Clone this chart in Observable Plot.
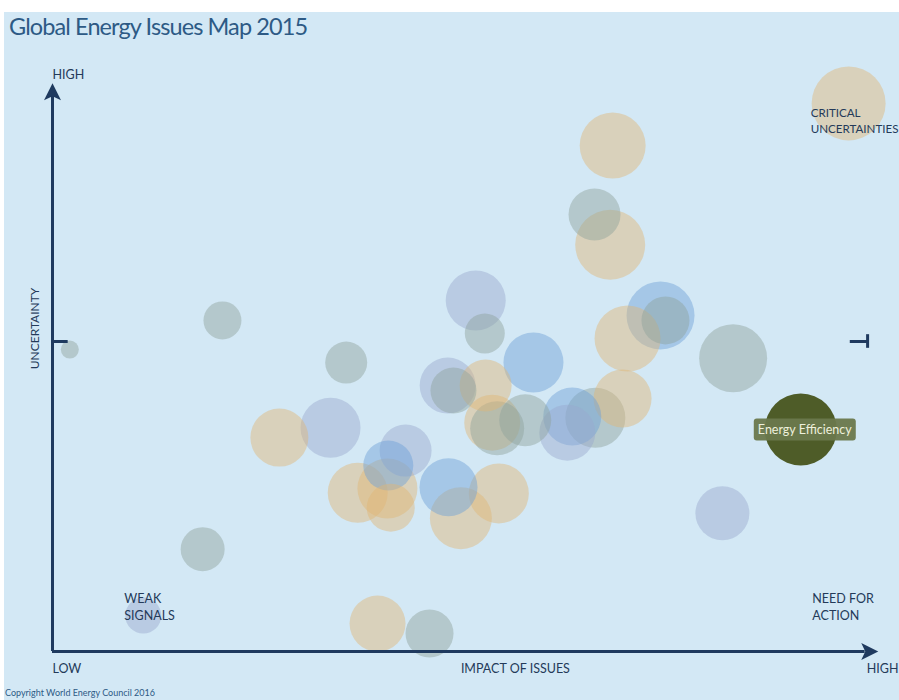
<!DOCTYPE html>
<html><head><meta charset="utf-8">
<script src="https://cdn.jsdelivr.net/npm/d3@7"></script>
<script src="https://cdn.jsdelivr.net/npm/@observablehq/plot@0.6"></script>
<style>
body{margin:0;background:#fff;}
#wrap{position:relative;width:899px;height:700px;overflow:hidden;}
#bg{position:absolute;left:4px;top:12px;right:0;bottom:0;background:#d3e8f5;}
#title{position:absolute;left:9px;top:12px;font:23.5px Lato;color:#2d5a85;letter-spacing:-0.9px;white-space:nowrap;}
#copy{position:absolute;left:5px;top:687px;font:9px Lato;color:#2d5a85;white-space:nowrap;}
#chart{position:absolute;left:0;top:0;}
</style></head>
<body>
<div id="wrap"><div id="bg"></div><div id="chart"></div>
<div id="title">Global Energy Issues Map 2015</div>
<div id="copy">Copyright World Energy Council 2016</div></div>
<script>
// Impact (x) and uncertainty (y) on a 0–10 scale, bubble radius, group
const impact      = [9.65,6.79,6.57,6.76,5.13,5.24,7.37,7.43,6.97,8.25,5.83,2.06,0.21,3.56,4.79,4.86,5.25,6.91,5.33,5.39,5.73,6.30,6.24,6.58,3.37,2.75,4.28,4.07,3.70,4.06,4.10,4.80,5.41,4.95,8.12,1.82,1.10,3.94,4.57,9.07];
const uncertainty = [8.84,8.16,7.05,6.56,5.66,5.13,5.42,5.34,5.05,4.73,4.66,5.34,4.87,4.66,4.29,4.21,4.29,4.08,3.69,3.60,3.73,3.79,3.53,3.77,3.61,3.45,3.24,3.00,2.56,2.63,2.32,2.65,2.55,2.15,2.23,1.65,0.58,0.45,0.29,3.58];
const size        = [37,33,26,35,30,20,34,24,33,34,30,19,9,21,28,23,26,29,28,27,26,29,28,30,30,29,26,25,30,30,24,29,30,31,27,22,18,28,24,36];
const group       = ["tan","tan","grey","tan","lavender","grey","blue","grey","tan","grey","blue","grey","grey","grey","lavender","grey","tan","tan","tan","grey","grey","blue","lavender","grey","lavender","tan","lavender","blue","tan","tan","tan","blue","tan","tan","lavender","grey","lavender","tan","grey","highlight"];
const label       = Array(39).fill("").concat(["Energy Efficiency"]);

const groups = ["tan","grey","lavender","blue","highlight"];
const groupColors = ["#e0b676","#8da29b","#9aa9cf","#6c9fd6","#4e5c28"];

const cornerLabels = [
  {x: 0.87, y: 0.73, text: "WEAK\nSIGNALS"},
  {x: 9.21, y: 0.73, text: "NEED FOR\nACTION"}
];
const topRightLabel = [{x: 9.19, y: 8.57, text: "CRITICAL\nUNCERTAINTIES"}];
const axisLabels = [
  {x: 0, y: 9.3, text: "HIGH"},
  {x: 0, y: -0.28, text: "LOW"},
  {x: 4.95, y: -0.28, text: "IMPACT OF ISSUES"},
  {x: 9.87, y: -0.28, text: "HIGH"}
];

const bubbles = impact.map((x, i) => ({x, y: uncertainty[i], r: size[i], g: group[i], label: label[i]}));

const ink = "#1f3a5f";
const textInk = "#243a59";

const arrowHead = {draw(ctx) {
  ctx.moveTo(9, 0); ctx.lineTo(-8, -8.5); ctx.lineTo(-4, 0); ctx.lineTo(-8, 8.5); ctx.closePath();
}};
const labelBox = {draw(ctx) {
  const w = 51, h = 11, k = 3;
  ctx.moveTo(-w + k, -h); ctx.lineTo(w - k, -h); ctx.quadraticCurveTo(w, -h, w, -h + k);
  ctx.lineTo(w, h - k); ctx.quadraticCurveTo(w, h, w - k, h);
  ctx.lineTo(-w + k, h); ctx.quadraticCurveTo(-w, h, -w, h - k);
  ctx.lineTo(-w, -h + k); ctx.quadraticCurveTo(-w, -h, -w + k, -h); ctx.closePath();
}};

const highlighted = bubbles.filter(d => d.label);

const chart = Plot.plot({
  width: 899, height: 700,
  marginLeft: 52, marginRight: 22, marginTop: 31, marginBottom: 49,
  x: {domain: [0, 10], axis: null},
  y: {domain: [0, 10], axis: null},
  r: {type: "linear", domain: [0, 40], range: [0, 40]},
  color: {domain: groups, range: groupColors},
  style: {background: "transparent", fontFamily: "Lato", overflow: "visible"},
  marks: [
    Plot.dot(bubbles, {x: "x", y: "y", r: "r", fill: "g", fillOpacity: d => d.g === "highlight" ? 1 : 0.45, stroke: null}),
    // axes
    Plot.ruleX([0], {y1: 0, y2: 9.0, stroke: ink, strokeWidth: 3}),
    Plot.ruleY([0], {x1: 0, x2: 9.85, stroke: ink, strokeWidth: 3}),
    Plot.dot([{x: 9.9, y: 0}], {x: "x", y: "y", symbol: arrowHead, r: 9, fill: ink, stroke: null}),
    Plot.dot([{x: 0, y: 9.02}], {x: "x", y: "y", symbol: arrowHead, r: 9, fill: ink, stroke: null, rotate: -90}),
    Plot.ruleY([5], {x1: 0, x2: 0.19, stroke: ink, strokeWidth: 3}),
    Plot.ruleY([5], {x1: 9.67, x2: 9.88, stroke: ink, strokeWidth: 3}),
    Plot.ruleX([9.88], {y1: 4.89, y2: 5.11, stroke: ink, strokeWidth: 3}),
    // labels
    Plot.text(axisLabels, {x: "x", y: "y", text: "text", textAnchor: "start", fill: textInk, fontSize: 12.5}),
    Plot.text(cornerLabels, {x: "x", y: "y", text: "text", textAnchor: "start", fill: textInk, fontSize: 12.5, lineHeight: 1.3}),
    Plot.text(topRightLabel, {x: "x", y: "y", text: "text", textAnchor: "start", fill: textInk, fontSize: 11.6, lineHeight: 1.38, letterSpacing: "-0.45px"}),
    Plot.text(["UNCERTAINTY"], {x: -0.21, y: 5.21, text: d => d, rotate: -90, fill: textInk, fontSize: 12}),
    Plot.dot(highlighted, {x: "x", y: "y", symbol: labelBox, r: 10, fill: "#6a784c", fillOpacity: 0.95, stroke: null, dx: 4}),
    Plot.text(highlighted, {x: "x", y: "y", text: "label", fill: "#eef0dc", fontSize: 12.5, dx: 4})
  ]
});
document.getElementById("chart").append(chart);
</script>
</body></html>
